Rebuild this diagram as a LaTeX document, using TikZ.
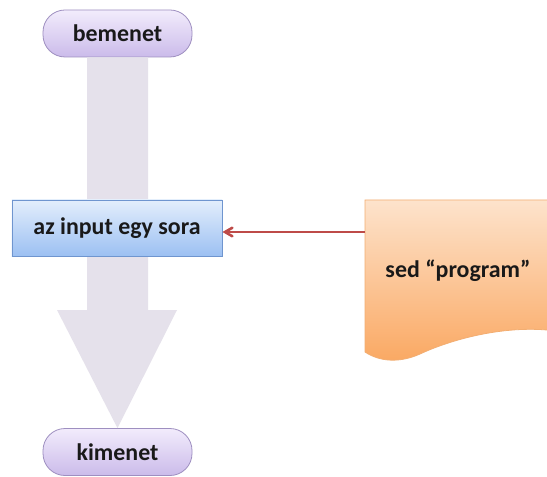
\documentclass[tikz,border=0pt]{standalone}
\usepackage{fontspec}
\setmainfont{Carlito}
\usepackage{xcolor}
\usepackage{tikz}
\usetikzlibrary{arrows,calc,shapes}
\definecolor{pilltop}{HTML}{F2ECFC}
\definecolor{pillbot}{HTML}{CBBBEA}
\definecolor{pillrim}{HTML}{9E8FC0}
\definecolor{boxtop}{HTML}{E3EEFC}
\definecolor{boxbot}{HTML}{9CC0F2}
\definecolor{boxrim}{HTML}{6F95CF}
\definecolor{doctop}{HTML}{FDE3CC}
\definecolor{docbot}{HTML}{FAA862}
\definecolor{docrim}{HTML}{F3AE72}
\definecolor{flowgray}{HTML}{E5E1EB}
\definecolor{linkred}{HTML}{BE4B48}
\tikzset{
	lbl/.style={font=\fontsize{24}{28}\selectfont\bfseries, text=black!90},
	pill/.style={lbl, draw=pillrim, line width=.8pt, top color=pilltop, bottom color=pillbot,
		rounded corners=22bp, minimum width=149bp, minimum height=47bp, inner sep=0pt},
	rowbox/.style={lbl, draw=boxrim, line width=.8pt, top color=boxtop, bottom color=boxbot,
		minimum width=210bp, minimum height=56bp, inner sep=0pt}
}
\begin{document}
\begin{tikzpicture}[x=1bp,y=-1bp]
		\clip (0,0) rectangle (547,477);
		\fill[white] (0,0) rectangle (547,477);
		%
		\node[pill] (in) at (117.5,33.5) {bemenet};
		\node[pill] (out) at (117.5,452) {kimenet};
		%
		\fill[flowgray] ($(in.south)+(-30.5,0)$) -- ($(in.south)+(30.5,0)$)
			-- (148,310) -- (177,310) -- (out.north) -- (57,310) -- (87,310) -- cycle;
		%
		\node[rowbox] (row) at (117,228) {az input egy sora};
		%
		\shade[top color=doctop, bottom color=docbot, draw=docrim, line width=.8pt]
			(365,200) -- (560,200) -- (560,330) -- (547,330)
			.. controls (500,326) and (450,340) .. (420,354)
			.. controls (400,363) and (380,362) .. (365,352) -- cycle;
		\coordinate (prog) at (365,232);
		\node[lbl] (sed) at (458,271) {sed “program”};
		%
		\draw[->,>=angle 60,draw=linkred,line width=2.6pt]
		(prog) -- (row.east |- prog);
	\end{tikzpicture}
\end{document}
